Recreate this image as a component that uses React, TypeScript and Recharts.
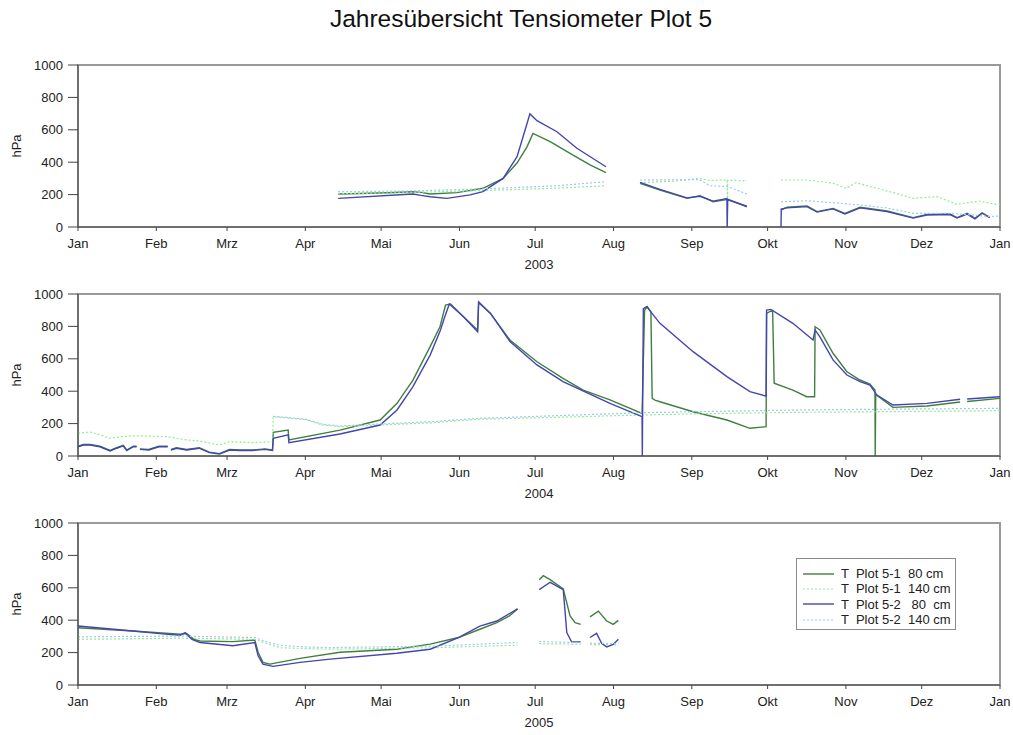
import React from 'react';
import { LineChart, Line, XAxis, YAxis, ReferenceArea, Legend } from 'recharts';

type Pt = [number, number | null];

// x = day of year, y = hPa; [day, null] breaks the line
const MONTH_TICKS = [0, 31, 59, 90, 120, 151, 181, 212, 243, 273, 304, 334, 365];
const MONTH_LABELS = ['Jan', 'Feb', 'Mrz', 'Apr', 'Mai', 'Jun', 'Jul', 'Aug', 'Sep', 'Okt', 'Nov', 'Dez', 'Jan'];
const Y_TICKS = [0, 200, 400, 600, 800, 1000];

const SERIES_NAMES = ['T  Plot 5-1  80 cm', 'T  Plot 5-1  140 cm', 'T  Plot 5-2   80  cm', 'T  Plot 5-2  140 cm'];
const SERIES_COLORS = ['#3f7f3f', '#8fec8f', '#4545b0', '#9cc6f6'];
const SERIES_DASH = [undefined, '2 2', undefined, '2 2'];
const SERIES_WIDTH = [1.4, 1.2, 1.4, 1.2];

// ---- 2003 ----
const t51_80_2003: Pt[] = [
  [103, 204], [119.6, 210], [132.6, 218], [135.8, 214], [139.4, 204], [150, 212], [160.3, 239], [168.3, 300],
  [173.8, 395], [177.8, 496], [180.1, 578], [186.9, 527], [194.8, 455], [202.7, 383], [209, 335], [215, null],
  [222.5, 270], [230.4, 228], [241.1, 177], [246.2, 193], [251.4, 156], [257.3, 171], [264.8, 125], [270, null],
  [278.3, 105], [280.7, 122], [288.6, 130], [292.6, 95], [298.9, 115], [303.6, 84], [309.6, 122], [320.3, 99],
  [330.6, 58], [336.1, 78], [345.2, 80], [348, 58], [352, 84], [355.1, 53], [357.9, 88], [361, 60],
];
const t51_140_2003: Pt[] = [
  [103, 205], [130, 212], [160, 225], [190, 240], [209, 255], [215, null],
  [222.5, 274], [235, 282], [246, 300], [250, 288], [257, 290], [257.1, 0], [257.2, 288], [264.8, 286], [270, null],
  [278.3, 290], [288.6, 290], [299, 270], [304, 239], [308, 273], [322.8, 212], [330.7, 177], [340, 188],
  [347.9, 140], [357, 160], [362.4, 142], [365, 140],
];
const t52_80_2003: Pt[] = [
  [103, 177], [132.6, 204], [135.8, 195], [139.4, 187], [146.1, 177], [155.2, 198], [160.3, 218], [168.3, 300],
  [173.8, 434], [177, 599], [178.9, 698], [181.7, 656], [189.6, 588], [197.5, 486], [209, 372], [215, null],
  [222.5, 275], [230.4, 232], [241.1, 180], [246.2, 190], [251.4, 160], [256.9, 175], [257, 0], [257.2, 168],
  [264.8, 128], [270, null],
  [278.3, 0], [278.4, 110], [280.7, 118], [288.6, 126], [292.6, 92], [298.9, 112], [303.6, 80], [309.6, 118],
  [320.3, 95], [330.6, 55], [336.1, 74], [345.2, 77], [348, 55], [352, 80], [355.1, 50], [357.9, 85], [361, 57],
];
const t52_140_2003: Pt[] = [
  [103, 218], [130, 222], [160, 235], [190, 255], [209, 280], [215, null],
  [222.5, 290], [240, 292], [246, 293], [250, 255], [257, 250], [264.8, 204], [270, null],
  [278.3, 156], [288.6, 162], [299, 150], [309.6, 136], [320, 118], [330.7, 84], [345, 85], [361, 65], [365, 68],
];

// ---- 2004 ----
const t51_80_2004: Pt[] = [
  [0, 60], [2.1, 71], [4.75, 71], [8.7, 60], [12.7, 34], [15.3, 51], [17.9, 66], [19.3, 37], [21.9, 60], [23.2, 60], [23.9, null],
  [24.5, 44], [28, 40], [32, 60], [35.5, 60], [36.2, null],
  [36.8, 40], [39, 51], [43, 40], [48, 51], [52, 24], [56, 15], [60, 40], [64, 37], [69, 37], [74, 44], [77, 37],
  [77.3, 146], [83.2, 160], [83.5, 99], [103.7, 160], [119.6, 222], [126.3, 325], [132.6, 469], [139.4, 675],
  [143.3, 798], [145.5, 932], [147.5, 938], [152.6, 860], [158.2, 778], [158.6, 946], [163.3, 880], [171, 716],
  [181.7, 582], [192, 479], [200, 407], [210.6, 346], [223.3, 263], [224.3, 900], [225.4, 922], [226.8, 890],
  [227.3, 356], [228.4, 345], [230.4, 335], [243.5, 273], [256.9, 222], [266, 171], [272.4, 181], [272.6, 880],
  [274.3, 895], [275, 890], [275.6, 449], [283, 407], [288.5, 366], [291.6, 366], [291.8, 798], [293.7, 778],
  [298.9, 634], [304.4, 520], [309.6, 469], [313.5, 444], [315.5, 407], [315.6, 0], [315.8, 380], [322.6, 300],
  [336.1, 309], [349.2, 333], [350.5, null], [352, 336], [365, 356],
];
const t51_140_2004: Pt[] = [
  [0, 140], [4.75, 148], [8, 135], [12.7, 109], [18, 120], [21.9, 125], [30, 122], [35.5, 119], [43, 99],
  [48, 93], [56, 68], [60, 88], [70, 82], [77, 88], [77.3, 243], [90, 225], [97, 191], [103.7, 181],
  [140, 205], [158, 226], [223, 253], [250, 262], [290, 270], [330, 275], [365, 280],
];
const t52_80_2004: Pt[] = [
  [0, 57], [2.1, 68], [4.75, 68], [8.7, 57], [12.7, 31], [15.3, 48], [17.9, 63], [19.3, 34], [21.9, 57], [23.2, 57], [23.9, null],
  [24.5, 41], [28, 37], [32, 57], [35.5, 57], [36.2, null],
  [36.8, 37], [39, 48], [43, 37], [48, 48], [52, 21], [56, 12], [60, 37], [64, 34], [69, 34], [74, 41], [77, 34],
  [77.3, 109], [83.2, 130], [83.5, 82], [103.7, 136], [119.6, 191], [126.3, 284], [132.6, 428], [139.4, 623],
  [143.5, 778], [145, 850], [147, 938], [152.6, 860], [158.2, 767], [158.6, 952], [163.3, 880], [171, 706],
  [181.7, 562], [192, 459], [210.6, 325], [223.3, 243], [223.4, 0], [223.8, 910], [225.1, 922], [230.4, 819],
  [243.5, 644], [256.9, 490], [266, 397], [272.4, 370], [272.6, 901], [274.3, 905], [283, 819], [291, 716],
  [291.8, 778], [293.7, 735], [298.9, 593], [304.4, 500], [309.6, 459], [313.5, 438], [316.3, 376], [322.6, 315],
  [336.1, 325], [349.2, 350], [350.5, null], [352, 352], [365, 366],
];
const t52_140_2004: Pt[] = [
  [77.3, 245], [90, 228], [97, 195], [103.7, 186], [140, 212], [158, 232], [223, 267], [250, 275],
  [290, 285], [330, 290], [365, 294],
];

// ---- 2005 ----
const t51_80_2005: Pt[] = [
  [0, 353], [21.8, 333], [40.4, 313], [43, 318], [45.9, 282], [48.3, 272], [61.3, 268], [70, 278], [71.3, 202],
  [73.2, 140], [76, 129], [87.9, 164], [103.7, 202], [126.2, 221], [139.4, 252], [150.6, 293], [159.1, 344],
  [165.8, 385], [170.8, 426], [174, 470], [178, null],
  [182.6, 650], [184.2, 675], [186.9, 650], [192.1, 593], [194.8, 426], [196.8, 385], [199, 374], [201, null],
  [202.7, 421], [206, 456], [209.3, 395], [211.9, 374], [213.9, 399],
];
const t51_140_2005: Pt[] = [
  [0, 282], [20, 285], [40, 289], [70, 282], [75, 255], [80, 230], [90, 225], [99.8, 221], [140, 230], [174, 246], [178, null],
  [182.6, 255], [199, 252], [201, null],
  [202.7, 250], [213.9, 248],
];
const t52_80_2005: Pt[] = [
  [0, 364], [21.8, 333], [31.3, 319], [40.4, 307], [42.4, 323], [45.1, 282], [48.3, 262], [61.3, 242], [70, 262],
  [71.3, 180], [73.2, 129], [77.2, 115], [87.9, 140], [99.8, 160], [126.2, 196], [139.4, 221], [150.6, 293],
  [159.1, 364], [165.8, 395], [174, 470], [178, null],
  [182.6, 589], [186.9, 634], [192.1, 589], [193.5, 323], [195.4, 266], [199, 266], [201, null],
  [202.7, 293], [205.3, 319], [207.3, 258], [209.3, 235], [211.9, 250], [213.9, 282],
];
const t52_140_2005: Pt[] = [
  [0, 297], [20, 300], [40, 302], [70, 293], [75, 265], [80, 245], [90, 235], [99.8, 231], [140, 240], [174, 262], [178, null],
  [182.6, 268], [199, 262], [201, null],
  [202.7, 258], [213.9, 255],
];

const FONT = '"Liberation Sans", Arial, sans-serif';
const toRows = (pts: Pt[]) => pts.map(([d, v]) => ({ d, v }));

function LegendBox() {
  return (
    <div style={{ border: '1.5px solid #8a8a8a', background: '#fff', width: 160, height: 72, padding: '7px 0 0 0', boxSizing: 'border-box' }}>
      {SERIES_NAMES.map((name, i) => (
        <div key={name} style={{ display: 'flex', alignItems: 'center', height: 15.3 }}>
          <svg width={44} height={10}>
            <line x1={6} x2={37} y1={5} y2={5} stroke={SERIES_COLORS[i]} strokeWidth={SERIES_WIDTH[i]} strokeDasharray={SERIES_DASH[i]} />
          </svg>
          <span style={{ whiteSpace: 'pre', fontFamily: FONT, fontSize: 13, color: '#222', lineHeight: '15px' }}>{name}</span>
        </div>
      ))}
    </div>
  );
}

function Panel({ top, year, series, legend }: { top: number; year: string; series: Pt[][]; legend?: boolean }) {
  return (
    <div style={{ position: 'absolute', left: 0, top }}>
      <LineChart width={1013} height={225} margin={{ top: 10, right: 13, bottom: 23, left: 0 }}>
        <ReferenceArea x1={0} x2={365} y1={0} y2={1000} fill="none" stroke="#9a9a9a" strokeWidth={2} ifOverflow="visible" />
        <XAxis
          dataKey="d"
          type="number"
          domain={[0, 365]}
          ticks={MONTH_TICKS}
          tickFormatter={(v: number) => MONTH_LABELS[MONTH_TICKS.indexOf(v)]}
          tickSize={4}
          tickMargin={8}
          tick={{ fill: '#222', fontSize: 13, fontFamily: FONT }}
          axisLine={{ stroke: '#444' }}
          tickLine={{ stroke: '#444' }}
          allowDataOverflow
          label={{ value: year, position: 'bottom', offset: 3, fill: '#222', fontSize: 13, fontFamily: FONT }}
        />
        <YAxis
          type="number"
          domain={[0, 1000]}
          ticks={Y_TICKS}
          width={78}
          tickSize={10}
          tickMargin={5}
          tick={{ fill: '#222', fontSize: 13, fontFamily: FONT }}
          axisLine={{ stroke: '#444' }}
          tickLine={{ stroke: '#444' }}
          label={{
            content: ({ viewBox }: any) => {
              const cy = viewBox.y + viewBox.height / 2;
              return (
                <text x={16} y={cy} transform={`rotate(-90, 16, ${cy})`} textAnchor="middle" dominantBaseline="central"
                  fill="#222" fontSize={13} fontFamily={FONT}>hPa</text>
              );
            },
          }}
        />
        {series.map((pts, i) => (
          <Line
            key={SERIES_NAMES[i]}
            name={SERIES_NAMES[i]}
            data={toRows(pts)}
            dataKey="v"
            type="linear"
            stroke={SERIES_COLORS[i]}
            strokeWidth={SERIES_WIDTH[i]}
            strokeDasharray={SERIES_DASH[i]}
            dot={false}
            activeDot={false}
            connectNulls={false}
            isAnimationActive={false}
          />
        ))}
        {legend && (
          <Legend
            layout="vertical"
            align="center"
            verticalAlign="middle"
            content={() => <LegendBox />}
            wrapperStyle={{ left: 796, top: 45, width: 162, height: 75 }}
          />
        )}
      </LineChart>
    </div>
  );
}

export default function App() {
  return (
    <div style={{ position: 'absolute', left: 0, top: 0, width: 1013, height: 735, background: '#fff', fontFamily: FONT }}>
      <svg width={1013} height={40} style={{ position: 'absolute', left: 0, top: 0 }}>
        <text x={521} y={27} textAnchor="middle" fontSize={24.5} fontFamily={FONT} fill="#111">
          Jahresübersicht Tensiometer Plot 5
        </text>
      </svg>
      <Panel top={55} year="2003" series={[t51_80_2003, t51_140_2003, t52_80_2003, t52_140_2003]} />
      <Panel top={284} year="2004" series={[t51_80_2004, t51_140_2004, t52_80_2004, t52_140_2004]} />
      <Panel top={513} year="2005" series={[t51_80_2005, t51_140_2005, t52_80_2005, t52_140_2005]} legend />
    </div>
  );
}
